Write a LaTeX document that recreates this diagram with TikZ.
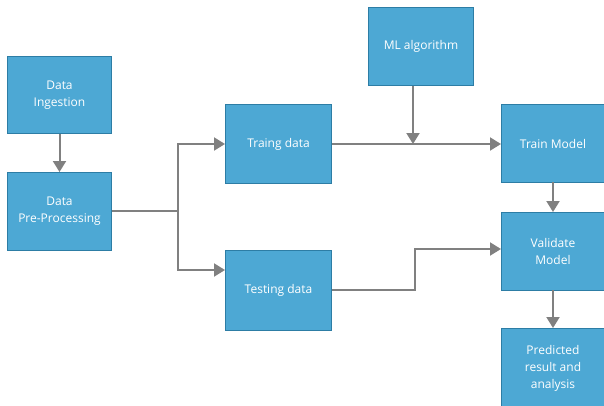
\documentclass[tikz,border=0pt]{standalone}
\usepackage{fontspec}
\setmainfont{Open Sans}
\usetikzlibrary{arrows.meta}
\definecolor{boxfill}{RGB}{77,168,212}
\definecolor{boxedge}{RGB}{45,125,165}
\definecolor{linegray}{RGB}{128,128,128}
\tikzset{
  stepbox/.style={draw=boxedge, line width=1pt, fill=boxfill, text=white, align=center,
    font=\fontsize{12}{17}\selectfont, anchor=north west, minimum width=#1, inner sep=0pt},
  conn/.style={draw=linegray, line width=2pt},
  arr/.style={conn, -{Triangle[length=11pt,width=13pt]}},
}
\begin{document}
\begin{tikzpicture}[x=1pt,y=-1pt]
\useasboundingbox (0,0) rectangle (604,405);
\newcommand{\bx}[6]{\node[stepbox=#4-#2, minimum height=#5-#3] (#1) at (#2,#3) {#6};}
\bx{ing}{7}{56}{111}{133}{Data\\Ingestion}
\bx{pre}{7}{172}{111}{250}{Data\\Pre-Processing}
\bx{trd}{225}{104}{331}{183}{Traing data}
\bx{ted}{225}{250}{331}{330}{Testing data}
\bx{mla}{368}{7}{473}{85}{ML algorithm}
\bx{trm}{501}{104}{604}{182}{Train Model}
\bx{val}{501}{212}{604}{290}{Validate\\Model}
\bx{prd}{501}{328}{604}{407}{Predicted\\result and\\analysis}
\coordinate (split) at (178,211);
\coordinate (join) at (413,144);
\draw[arr] (ing.south) -- (pre.north);
\draw[conn] (pre.east |- split) -- (split);
\draw[arr] (split) |- (trd.west |- 0,144);
\draw[arr] (split) |- (ted.west |- 0,270);
\draw[conn] (trd.east |- join) -- (join);
\draw[arr] (join) -- (trm.west |- join);
\draw[arr] (join |- mla.south) -- (join);
\draw[arr] (ted.east |- 0,290) -- (415,290) |- (val.west |- 0,249);
\draw[arr] (553,182) -- (553,212);
\draw[arr] (553,290) -- (553,328);
\end{tikzpicture}
\end{document}
